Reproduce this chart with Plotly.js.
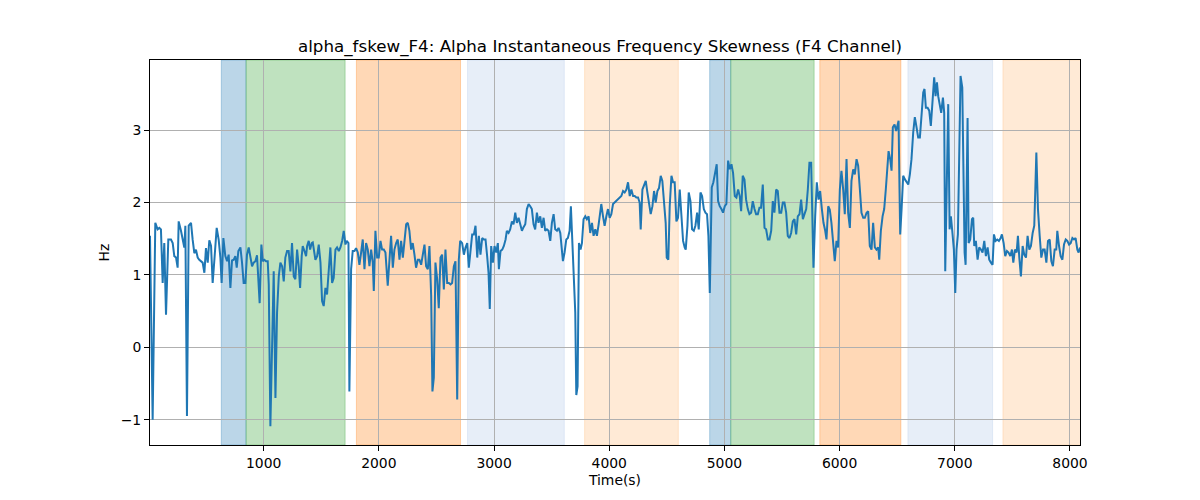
<!DOCTYPE html>
<html>
<head>
<meta charset="utf-8">
<script src="https://cdn.plot.ly/plotly-3.0.1.min.js"></script>
<style>body{margin:0;background:#fff}</style>
</head>
<body>
<div id="chart" style="width:1200px;height:500px"></div>
<script>
// sample times (s) and skewness values (Hz)
var timeS = [13,36,59,79,94,108,123,137,152,172,195,210,224,239,253,262,282,297,311,320,334,349,369,383,398,412,427,441,456,470,485,499,514,528,543,557,572,592,609,624,635,650,667,682,696,711,725,740,754,766,780,798,812,826,841,855,870,884,899,913,928,942,954,965,980,992,1006,1020,1035,1044,1058,1073,1087,1102,1116,1131,1145,1160,1174,1188,1203,1217,1232,1246,1261,1275,1290,1304,1316,1330,1339,1354,1368,1377,1391,1403,1417,1426,1435,1449,1464,1478,1493,1507,1521,1536,1550,1565,1579,1594,1608,1623,1637,1652,1666,1681,1695,1710,1721,1736,1744,1759,1773,1788,1802,1817,1831,1846,1860,1875,1889,1904,1918,
1933,1947,1956,1970,1985,1999,2014,2028,2043,2057,2077,2092,2106,2121,2135,2150,2164,2179,2193,2208,2222,2237,2251,2265,2280,2294,2309,2323,2338,2352,2367,2381,2396,2410,2425,2439,2454,2465,2477,2491,2506,2520,2535,2549,2564,2578,2593,2607,2622,2636,2651,2665,2680,2694,2706,2723,2738,2752,2767,2781,2796,2810,2825,2839,2854,2868,2882,2897,2911,2926,2940,2952,2963,2975,2990,3004,3019,3033,3042,3056,3071,3085,3100,3111,3126,3140,3155,3169,3184,3198,3213,3227,3242,3256,3271,3285,3300,3314,3328,3343,3357,3372,3386,3401,3415,3430,3444,3459,3473,3488,3502,3517,3531,3546,3560,3575,3589,3598,3612,3627,3641,3656,3667,3679,3690,3705,3714,3725,3737,3751,3763,3777,3792,3806,3821,3835,3850,3864,3879,3893,3908,
3931,3946,3960,3975,3989,4004,4018,4033,4047,4062,4076,4091,4105,4120,4134,4149,4163,4178,4192,4207,4221,4235,4250,4264,4273,4288,4302,4317,4331,4346,4360,4375,4389,4403,4418,4432,4447,4461,4476,4490,4499,4513,4525,4540,4554,4568,4583,4597,4612,4627,4641,4655,4664,4679,4690,4705,4719,4734,4748,4763,4777,4792,4806,4821,4835,4849,4861,4873,4890,4904,4919,4933,4945,4959,4974,4988,5003,5017,5032,5046,5061,5075,5090,5104,5119,5133,5145,5159,5174,5188,5203,5217,5232,5246,5261,5275,5290,5304,5318,5333,5348,5362,5377,5391,5406,5420,5434,5449,5463,5478,5493,5507,5521,5536,5550,5565,5579,5594,5608,5623,5637,5652,5666,5681,5695,5710,5724,5738,5753,5765,5773,5788,5802,5817,5831,5846,5860,5875,5886,5901,
5915,5929,5944,5958,5973,5987,6002,6016,6031,6045,6060,6074,6089,6103,6118,6132,6147,6161,6176,6190,6205,6219,6234,6248,6262,6277,6291,6306,6320,6335,6344,6358,6373,6387,6401,6413,6425,6439,6451,6462,6477,6491,6503,6512,6520,6526,6538,6552,6567,6581,6596,6610,6624,6639,6653,6668,6682,6697,6711,6726,6737,6749,6764,6778,6792,6807,6821,6833,6845,6856,6871,6882,6897,6908,6917,6929,6943,6955,6966,6978,6992,7004,7015,7027,7039,7050,7065,7076,7085,7094,7102,7111,7120,7134,7149,7160,7169,7183,7198,7212,7227,7241,7256,7270,7285,7299,7314,7328,7340,7354,7369,7383,7398,7409,7424,7438,7453,7467,7482,7496,7508,7522,7537,7548,7560,7574,7589,7603,7618,7632,7647,7661,7676,7690,7708,7722,7737,7751,7766,7780,7795,7809,7824,7838,7852,7867,7881,7890,7905,7919,7934,7948,7963,7977,7992,8006,8021,8035,8049,8064,8075,8087];

var skewHz = [1.54,-1.00,1.72,1.63,1.65,1.63,0.89,1.44,0.45,1.49,1.49,1.44,1.26,1.24,1.10,1.74,1.61,1.47,1.38,1.68,-0.95,1.68,1.72,1.49,1.30,1.35,1.24,1.21,1.19,1.17,1.03,1.37,1.17,1.48,1.40,0.89,1.21,1.65,1.49,1.24,0.89,1.51,1.26,1.19,1.28,0.82,1.20,1.21,1.26,1.10,1.33,1.38,1.17,0.89,0.89,1.28,1.38,1.26,1.12,1.17,1.19,1.27,0.91,0.61,1.42,1.19,1.21,1.19,1.19,0.87,-1.09,-0.03,1.05,-0.70,0.48,0.98,1.17,1.12,0.91,1.24,1.33,1.33,1.05,1.44,0.98,0.94,1.35,1.12,0.82,1.26,1.40,1.33,1.26,1.40,1.47,1.35,1.44,1.45,1.35,1.21,1.26,1.42,1.17,0.64,0.57,0.82,0.73,1.08,1.38,0.89,0.96,1.35,1.38,1.33,1.38,1.47,1.61,1.42,1.47,1.44,-0.61,1.08,1.33,1.33,1.37,1.31,1.14,1.31,1.49,1.08,1.44,1.35,1.12,
1.35,1.17,0.78,1.61,1.24,1.24,1.47,1.35,1.35,1.31,0.85,1.26,1.54,1.10,1.35,1.44,1.49,1.21,1.47,1.24,1.44,1.70,1.72,1.61,1.35,1.44,1.28,1.10,1.21,1.21,1.14,1.28,1.42,1.12,1.08,1.40,0.71,-0.61,-0.42,1.17,0.94,0.54,1.24,1.28,0.80,1.35,0.89,0.89,0.87,0.89,1.12,1.19,-0.72,1.21,1.47,1.44,1.28,1.38,1.44,1.10,1.40,1.56,1.56,1.68,1.24,1.54,1.28,1.51,1.49,1.49,1.26,1.03,0.53,1.40,1.17,1.40,1.31,1.44,1.08,1.33,1.35,1.40,1.49,1.61,1.58,1.63,1.74,1.70,1.86,1.72,1.79,1.68,1.61,1.66,1.70,1.91,1.98,1.95,1.91,1.70,1.63,1.86,1.72,1.81,1.65,1.79,1.61,1.63,1.61,1.47,1.72,1.84,1.63,1.61,1.65,1.58,1.31,1.19,1.31,1.49,1.51,1.61,1.95,1.54,1.19,0.48,-0.66,-0.54,1.44,1.35,1.44,1.77,1.81,1.77,1.81,1.58,1.72,1.54,1.63,1.54,1.70,
1.98,1.81,1.68,1.81,1.91,1.79,1.84,1.98,2.00,2.02,2.04,2.07,2.09,2.16,2.14,2.18,2.28,2.09,2.18,2.09,2.09,2.07,2.07,2.00,1.63,2.18,2.23,2.30,2.14,2.00,1.84,1.95,2.16,2.00,2.16,2.20,2.37,2.30,2.04,1.72,1.24,1.21,1.95,2.37,2.28,2.28,1.74,1.79,2.18,1.72,1.47,1.38,1.35,1.68,2.14,2.02,1.63,1.61,1.68,1.86,1.63,2.14,2.09,1.91,1.86,1.84,1.54,0.75,2.21,2.28,2.39,2.53,2.02,1.95,1.91,1.86,1.95,1.98,2.58,2.46,2.53,2.41,2.09,2.07,2.18,2.09,1.88,2.37,2.32,2.04,1.91,1.84,1.86,2.02,1.91,1.84,1.84,1.93,1.93,2.25,1.65,1.63,1.49,1.49,1.61,2.02,1.86,2.18,2.16,1.86,1.86,2.00,2.00,1.86,1.54,1.51,1.58,1.74,1.77,1.56,1.81,1.84,2.04,1.77,1.84,1.91,2.18,2.55,2.55,1.81,1.10,1.81,2.28,2.04,2.16,1.91,1.72,1.61,1.49,1.95,
1.90,1.72,1.47,1.19,1.47,1.38,2.18,2.44,2.18,1.84,2.60,1.86,1.65,2.30,2.46,2.39,2.60,2.51,2.18,1.86,1.79,1.79,1.86,1.88,1.40,1.35,1.72,1.38,1.35,1.38,1.21,1.61,1.81,1.91,2.18,2.41,2.71,2.60,2.44,3.04,3.08,2.99,3.08,3.13,2.18,1.56,1.91,2.37,2.32,2.28,2.25,2.39,2.60,2.97,3.18,3.04,2.90,2.90,3.22,3.52,3.57,3.31,3.31,3.27,3.06,3.38,3.73,3.47,3.66,3.47,3.31,3.24,3.45,3.24,1.05,2.25,3.36,1.63,1.81,1.61,1.35,0.75,1.35,1.56,2.55,3.75,3.59,2.04,1.31,1.14,2.28,3.17,1.44,1.49,1.77,1.79,1.40,1.47,1.21,1.38,1.35,1.31,1.47,1.26,1.38,1.21,1.17,1.14,1.56,1.47,1.49,1.47,1.51,1.56,1.44,1.26,1.33,1.31,1.26,1.35,1.17,1.35,1.31,1.54,1.24,0.98,1.40,1.28,1.24,1.54,1.35,1.40,1.58,1.68,2.69,1.91,1.54,1.24,1.35,1.35,1.17,1.47,1.49,1.19,1.12,1.35,1.35,1.61,1.40,1.26,1.21,1.42,1.49,1.47,1.42,1.44,1.51,1.49,1.51,1.35,1.31,1.38];

// shaded segments: start, end (s) and segment kind
var bandStart = [632, 847, 1805, 2770, 3786, 4872, 5055, 5828, 6593, 7418];
var bandEnd   = [847, 1707, 2709, 3610, 4600, 5055, 5779, 6532, 7328, 8200];
var bandKind  = ['blue', 'green', 'orange', 'ltblue', 'ltorange', 'blue', 'green', 'orange', 'ltblue', 'ltorange'];

var kindFill = {
  blue: 'rgba(31,119,180,0.3)',
  green: 'rgba(44,160,44,0.3)',
  orange: 'rgba(255,127,14,0.3)',
  ltblue: 'rgba(174,199,232,0.3)',
  ltorange: 'rgba(255,187,120,0.3)'
};

var shapes = [];
for (var i = 0; i < bandStart.length; i++) {
  shapes.push({
    type: 'rect', xref: 'x', yref: 'paper',
    x0: bandStart[i], x1: bandEnd[i], y0: 0, y1: 1,
    fillcolor: kindFill[bandKind[i]],
    line: {width: 1, color: kindFill[bandKind[i]]},
    layer: 'below'
  });
}

var trace = {
  x: timeS,
  y: skewHz,
  type: 'scatter',
  mode: 'lines',
  line: {color: '#1f77b4', width: 2},
  hoverinfo: 'x+y'
};

var axisCommon = {
  showline: true, mirror: true, linecolor: '#000', linewidth: 1,
  ticks: 'outside', ticklen: 5, tickcolor: '#000',
  showgrid: true, gridcolor: '#b0b0b0', gridwidth: 1,
  zeroline: false,
  tickfont: {size: 13.9, color: '#000'}
};

var layout = {
  width: 1200, height: 500,
  margin: {l: 150, r: 120, t: 60, b: 55},
  paper_bgcolor: '#fff', plot_bgcolor: '#fff',
  font: {family: 'DejaVu Sans, sans-serif', color: '#000'},
  title: {text: 'alpha_fskew_F4: Alpha Instantaneous Frequency Skewness (F4 Channel)',
          font: {size: 16.7}, x: 0.5, xanchor: 'center', y: 0.908, yanchor: 'middle'},
  xaxis: Object.assign({}, axisCommon, {
    range: [13, 8087],
    tickvals: [1000, 2000, 3000, 4000, 5000, 6000, 7000, 8000],
    title: {text: 'Time(s)', font: {size: 13.9}, standoff: 5}
  }),
  yaxis: Object.assign({}, axisCommon, {
    range: [-1.35, 3.97],
    tickvals: [-1, 0, 1, 2, 3],
    title: {text: 'Hz', font: {size: 13.9}, standoff: 7}
  }),
  shapes: shapes,
  showlegend: false
};

Plotly.newPlot('chart', [trace], layout, {displayModeBar: false});
</script>
</body>
</html>
